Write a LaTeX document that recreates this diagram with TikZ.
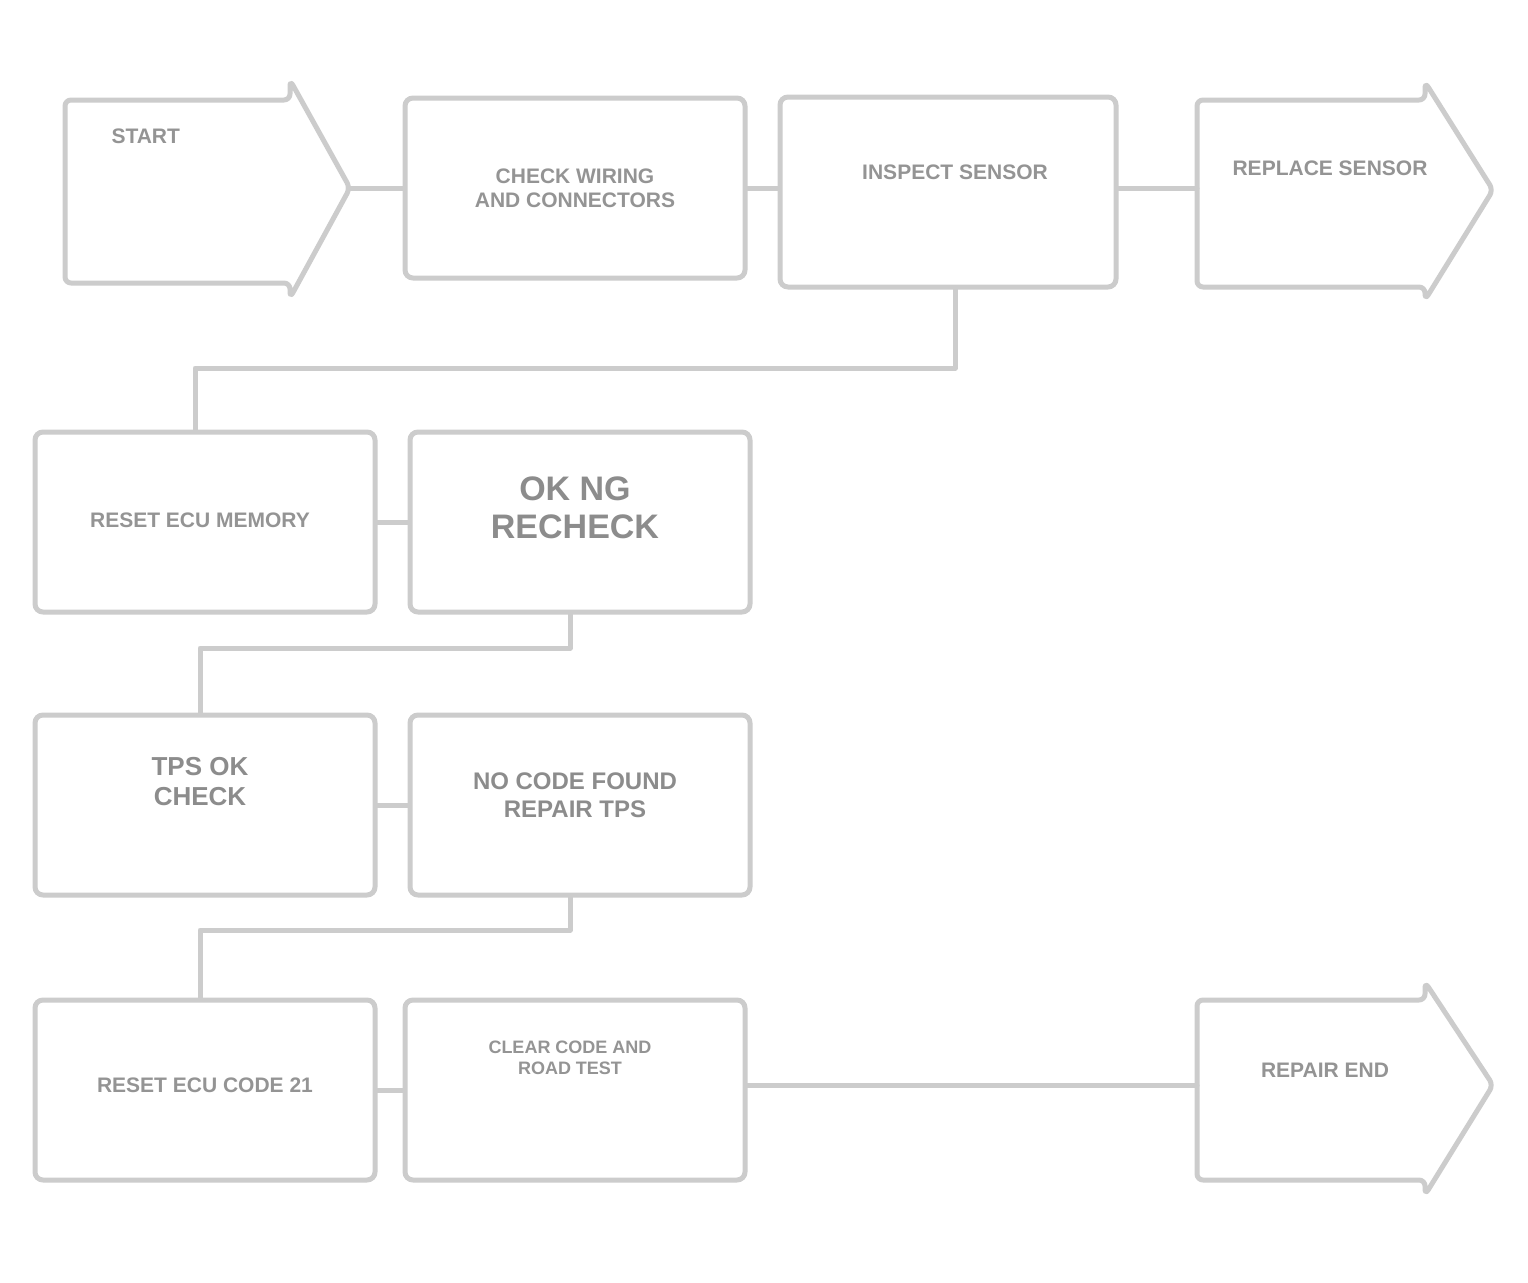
\documentclass[tikz,border=0pt]{standalone}
\usepackage{fontspec}
\setmainfont{Liberation Sans}
\begin{document}
\begin{tikzpicture}[x=1pt,y=-1pt,
  line/.style={draw=black!20,line width=5pt,line join=round,line cap=round},
  box/.style={line,rounded corners=8pt,minimum width=#1,minimum height=180pt,inner sep=0pt},
  box/.default=340pt,
  lbl/.style={text=black!42,font=\fontsize{21}{24}\selectfont\bfseries,align=center},
  big/.style={text=black!45,font=\fontsize{34}{38}\selectfont\bfseries,align=center}]
\useasboundingbox[fill=white] (0,0) rectangle (1528,1282);

% ---- row 1
\draw[line,rounded corners=6pt] (65,100) -- (290,100) -- (290,80) -- (350,188) -- (290,298) -- (290,283) -- (65,283) -- cycle;
\node[lbl,anchor=north west] (A) at (108,125) {START};
\coordinate (Atip) at (350,188);
\node[box] (B) at (575,188) {};
\node[lbl] (Bt) at (575,188) {CHECK WIRING\\AND CONNECTORS};
\node[box=336pt,minimum height=190pt] (C) at (948,192) {};
\node[lbl] (Ct) at (955,172) {INSPECT SENSOR};
\draw[line,rounded corners=6pt] (1197,100) -- (1425,100) -- (1425,82) -- (1493,190) -- (1425,300) -- (1425,287) -- (1197,287) -- cycle;
\node[lbl] (Dt) at (1330,168) {REPLACE SENSOR};
\coordinate (Dl) at (1197,188);

\draw[line] (Atip) -- (B.west);
\draw[line] (B.east) -- (C.west |- B.east);
\draw[line] (C.east |- Dl) -- (Dl);

% ---- row 2
\node[box] (E) at (205,522) {};
\node[lbl] (Et) at (200,520) {RESET ECU MEMORY};
\node[box] (F) at (580,522) {};
\node[big] (Ft) at (575,508) {OK  NG\\RECHECK};
\draw[line] (C.south -| 955,0) -- (955,368) -- (195,368) -- (E.north -| 195,0);
\draw[line] (E.east) -- (F.west);

% ---- row 3
\node[box] (G) at (205,805) {};
\node[big,font=\fontsize{26}{30}\selectfont\bfseries] (Gt) at (200,782) {TPS  OK\\CHECK};
\node[box] (H) at (580,805) {};
\node[big,font=\fontsize{24}{28}\selectfont\bfseries] (Ht) at (575,795) {NO  CODE  FOUND\\REPAIR  TPS};
\draw[line] (F.south -| 570,0) -- (570,648) -- (200,648) -- (G.north -| 200,0);
\draw[line] (G.east) -- (H.west);

% ---- row 4
\node[box] (I) at (205,1090) {};
\node[lbl] (It) at (205,1085) {RESET ECU CODE 21};
\node[box] (J) at (575,1090) {};
\node[lbl,font=\fontsize{18}{21}\selectfont\bfseries] (Jt) at (570,1058) {CLEAR CODE AND\\ROAD TEST};
\draw[line,rounded corners=6pt] (1197,1000) -- (1425,1000) -- (1425,982) -- (1493,1085) -- (1425,1195) -- (1425,1180) -- (1197,1180) -- cycle;
\node[lbl] (Kt) at (1325,1070) {REPAIR  END};
\coordinate (Kl) at (1197,1085);
\draw[line] (H.south -| 570,0) -- (570,930) -- (200,930) -- (I.north -| 200,0);
\draw[line] (I.east) -- (J.west);
\draw[line] (J.east |- Kl) -- (Kl);
\end{tikzpicture}
\end{document}
